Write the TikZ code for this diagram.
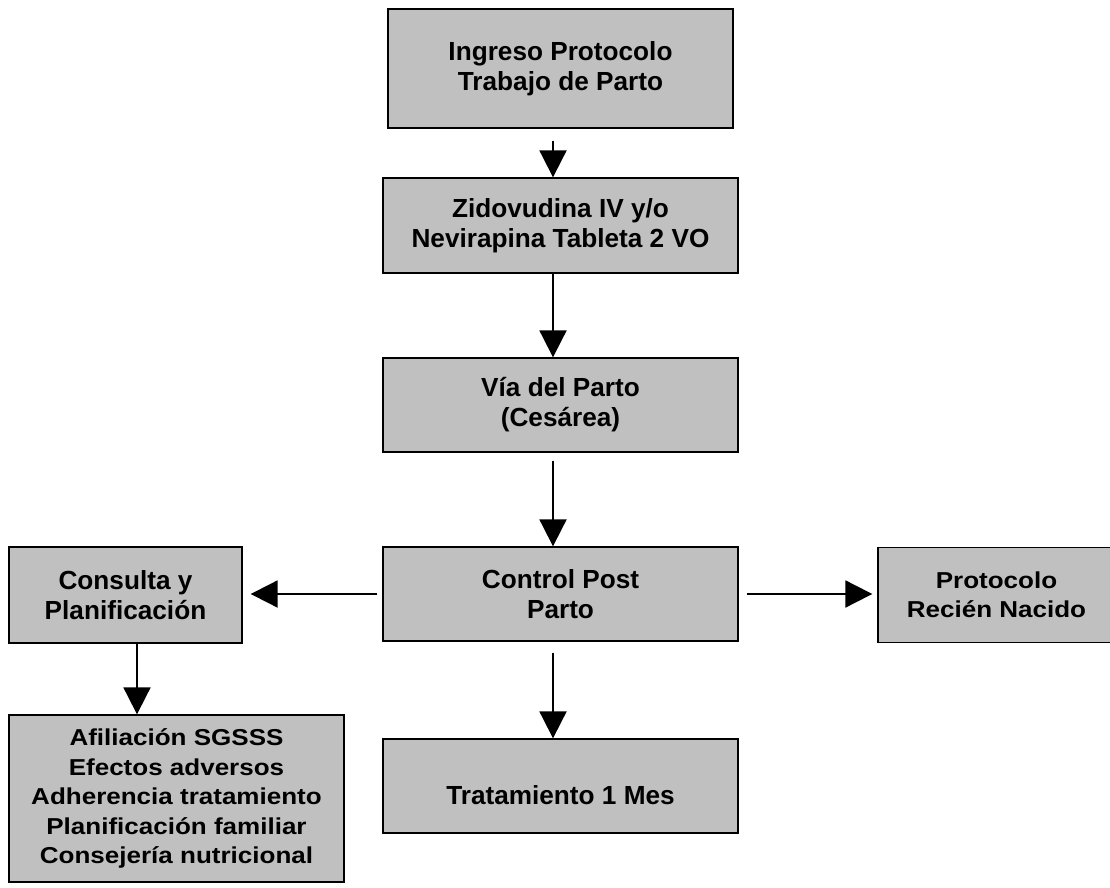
\documentclass[tikz,border=0pt]{standalone}
\usepackage{fontspec}
\setmainfont{Liberation Sans}
\newfontfamily\widesans[FakeStretch=1.13]{Liberation Sans}
\usetikzlibrary{arrows.meta}
\definecolor{boxgray}{RGB}{192,192,192}
\tikzset{
  box/.style={draw,fill=boxgray,line width=0.75pt,align=center,inner sep=0pt,
    minimum width=7.1cm,minimum height=1.88cm,
    font=\bfseries\fontsize{14.9}{17.1}\selectfont},
  smallbox/.style={box,font=\widesans\bfseries\fontsize{13.1}{16.8}\selectfont},
}
\begin{document}
\begin{tikzpicture}[>={Triangle[length=5.4mm,width=5.4mm]},line width=1.1pt]
  \useasboundingbox (0,0) rectangle (22.2,-17.76);
	\node[box,minimum width=6.9cm,minimum height=2.38cm] (ingreso) at (11.21,-1.37)
    {Ingreso Protocolo\\ Trabajo de Parto};
	\node[box,minimum height=1.9cm] (zdv) at (11.21,-4.51)
    {Zidovudina IV y/o\\ Nevirapina Tableta 2 VO};
	\node[box] (via) at (11.21,-8.10) {V\'ia del Parto\\ (Ces\'area)};
	\node[box] (cpp) at (11.21,-11.88) {Control Post\\ Parto};
	\node[box,minimum width=4.66cm,minimum height=1.92cm] (cyp) at (2.51,-11.9)
    {Consulta y\\ Planificaci\'on};
	\node[smallbox,minimum width=4.74cm,minimum height=1.9cm] (prn) at (19.93,-11.9)
    {Protocolo\\ Reci\'en Nacido};
	\node[smallbox,minimum width=6.7cm,minimum height=3.34cm] (afil) at (3.53,-15.97)
    {Afiliaci\'on SGSSS\\ Efectos adversos\\ Adherencia tratamiento\\
     Planificaci\'on familiar\\ Consejer\'ia nutricional};
	\node[box] (trat) at (11.21,-15.72) {\mbox{}\\[1.6mm] Tratamiento 1 Mes};
  \draw[->,shorten <=2.4mm] ([xshift=-1.5mm]ingreso.south) -- ([xshift=-1.5mm]zdv.north);
  \draw[->] ([xshift=-1.5mm]zdv.south) -- ([xshift=-1.5mm]via.north);
  \draw[->,shorten <=1.6mm] ([xshift=-1.5mm]via.south) -- ([xshift=-1.5mm]cpp.north);
  \draw[->,shorten <=1mm,shorten >=1.6mm] (cpp.west) -- (cpp.west -| cyp.east);
  \draw[->,shorten <=1.6mm,shorten >=1mm] (cpp.east) -- (cpp.east -| prn.west);
  \draw[->,shorten <=2.2mm] ([xshift=-1.5mm]cpp.south) -- ([xshift=-1.5mm]trat.north);
  \draw[->] ([xshift=2.3mm]cyp.south) -- ([xshift=2.3mm]cyp.south |- afil.north);
\end{tikzpicture}
\end{document}
